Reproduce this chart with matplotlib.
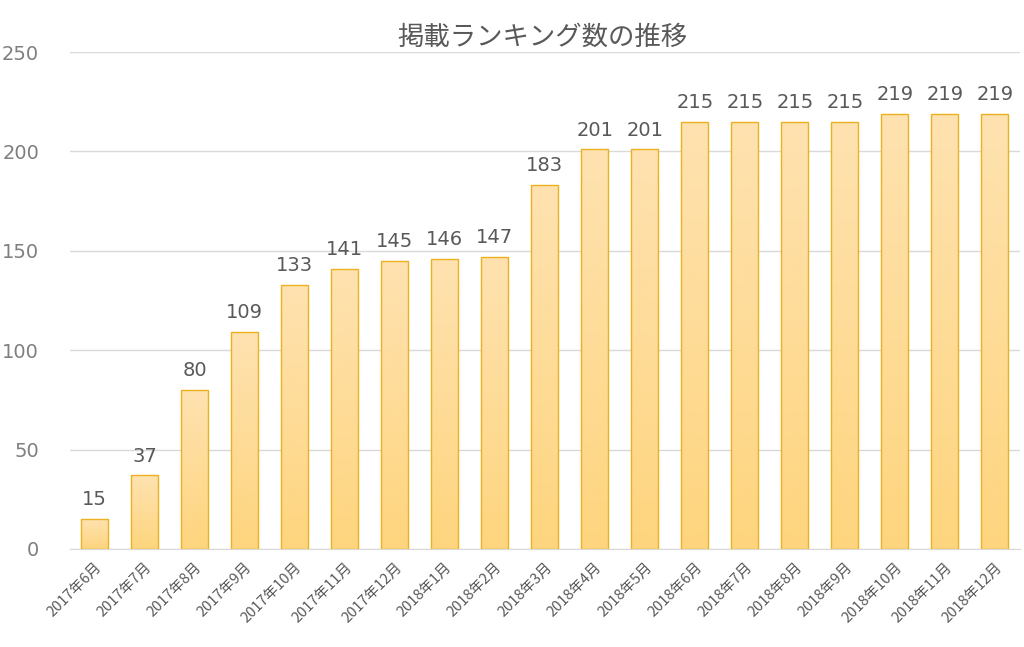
import matplotlib
matplotlib.use("Agg")
import matplotlib.pyplot as plt
import numpy as np
from matplotlib.colors import LinearSegmentedColormap

categories = ["2017年6月","2017年7月","2017年8月","2017年9月","2017年10月","2017年11月","2017年12月",
              "2018年1月","2018年2月","2018年3月","2018年4月","2018年5月","2018年6月","2018年7月",
              "2018年8月","2018年9月","2018年10月","2018年11月","2018年12月"]
values = [15,37,80,109,133,141,145,146,147,183,201,201,215,215,215,215,219,219,219]
yticks = [0,50,100,150,200,250]
title = "掲載ランキング数の推移"

plt.rcParams["font.family"] = "Noto Sans CJK JP"
gray = "#7f7f7f"
fig = plt.figure(figsize=(10.24,6.47), dpi=100)
ax = fig.add_axes([0.068,0.1515,0.928,0.768])
x = np.arange(len(values))
w = 0.54
bars = ax.bar(x, values, width=w, color="none", edgecolor="#EDB01E", linewidth=1.0, zorder=3)
grad = np.linspace(0,1,256).reshape(-1,1)
cmap = LinearSegmentedColormap.from_list("g", ["#FED57E", "#FEE2B0"])
for b in bars:
    x0 = b.get_x()
    im = ax.imshow(grad, extent=[x0, x0+b.get_width(), 0, b.get_height()], origin="lower",
                   cmap=cmap, aspect="auto", zorder=2)
    im.set_clip_path(b)
for xi, v in zip(x, values):
    ax.text(xi, v+5, str(v), ha="center", va="bottom", fontsize=14, color="#595959", family="DejaVu Sans")
ax.set_xlim(-0.5, len(values)-0.5)
ax.set_ylim(0, 250)
ax.set_yticks(yticks)
ax.set_yticklabels([str(t) for t in yticks], fontsize=14, color=gray, family="DejaVu Sans")
ax.set_xticks(x)
ax.set_xticklabels(categories, rotation=45, ha="right", rotation_mode="anchor", fontsize=10.5, color="#595959")
ax.grid(axis="y", color="#d9d9d9", linewidth=1, zorder=0)
for s in ["top","right","left"]:
    ax.spines[s].set_visible(False)
ax.spines["bottom"].set_color("#d9d9d9")
ax.tick_params(axis="x", length=0, pad=8)
ax.tick_params(axis="y", length=0, pad=22)
fig.text(0.53, 0.943, title, ha="center", va="center", fontsize=19, color="#595959")
fig.savefig("out.png", dpi=100)
